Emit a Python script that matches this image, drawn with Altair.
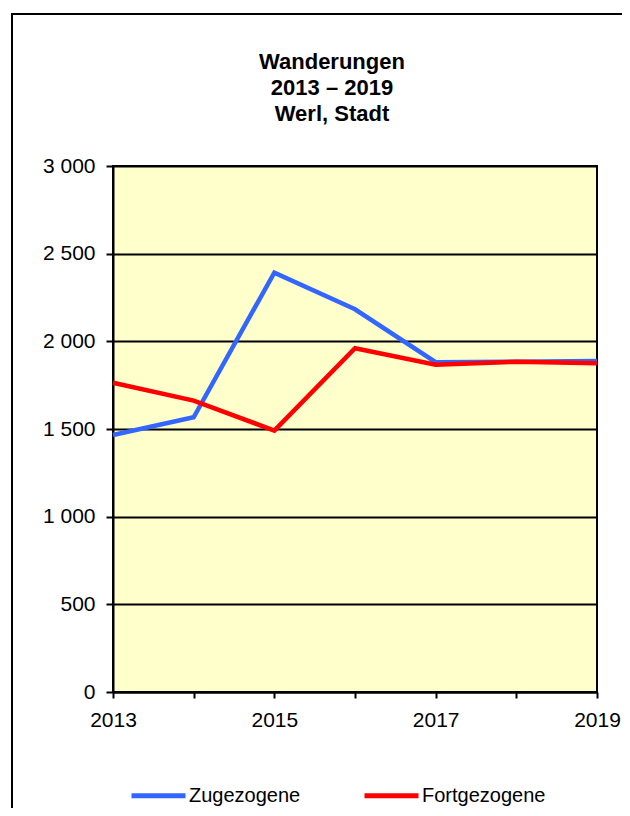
import altair as alt
import pandas as pd

years = [2013, 2014, 2015, 2016, 2017, 2018, 2019]
zugezogene = [1466, 1567, 2392, 2183, 1881, 1884, 1888]
fortgezogene = [1764, 1662, 1491, 1961, 1867, 1884, 1875]
series_names = ["Zugezogene", "Fortgezogene"]
colors = ["#3366ff", "#ff0000"]
y_ticks = [0, 500, 1000, 1500, 2000, 2500, 3000]
title_lines = ["Wanderungen", "2013 – 2019", "Werl, Stadt"]

rows = []
for name, vals in zip(series_names, [zugezogene, fortgezogene]):
    for yr, v in zip(years, vals):
        rows.append({"Jahr": yr, "Wert": v, "Reihe": name})
df = pd.DataFrame(rows)

W, H = 484, 526
FONT = "Liberation Sans"

lines = alt.Chart(df).mark_line(strokeWidth=4.5, clip=False).encode(
    x=alt.X(
        "Jahr:Q",
        scale=alt.Scale(domain=[years[0], years[-1]], nice=False, zero=False),
        axis=alt.Axis(
            values=years, format="d", title=None,
            labelExpr="datum.value % 2 == 1 ? datum.label : ''",
            labelFlush=False, labelOverlap=False,
            labelFont=FONT, labelFontSize=21, labelColor="black",
            labelPadding=11, tickSize=6, tickWidth=2, tickColor="black",
            domainColor="black", domainWidth=2, grid=False,
        ),
    ),
    y=alt.Y(
        "Wert:Q",
        scale=alt.Scale(domain=[0, 3000], nice=False),
        axis=alt.Axis(
            values=y_ticks, title=None,
            labelExpr="replace(format(datum.value, ','), ',', ' ')",
            labelFlush=False, labelOverlap=False,
            labelFont=FONT, labelFontSize=21, labelColor="black",
            labelPadding=11, tickSize=7, tickWidth=2, tickColor="black",
            domainColor="black", domainWidth=2,
            grid=True, gridColor="black", gridWidth=2, gridOpacity=1,
        ),
    ),
    color=alt.Color(
        "Reihe:N",
        sort=series_names,
        scale=alt.Scale(domain=series_names, range=colors),
        legend=alt.Legend(
            title=None, orient="none", legendX=16, legendY=600,
            direction="horizontal", symbolType="stroke",
            symbolSize=2916, symbolStrokeWidth=5,
            labelFont=FONT, labelFontSize=20, labelColor="black",
            labelOffset=1, columnPadding=53,
        ),
    ),
)

title = alt.Chart(alt.Data(values=[{"a": 1}])).mark_text(
    font=FONT, fontSize=22, fontWeight="bold", color="black",
    align="center", baseline="alphabetic", lineHeight=26,
).encode(
    x=alt.value(219), y=alt.value(-97), text=alt.value(title_lines)
)

frame = alt.Chart(alt.Data(values=[{"a": 1}])).mark_rect(
    fill=None, stroke="black", strokeWidth=2, clip=False
).encode(
    x=alt.value(-101), x2=alt.value(700), y=alt.value(-152), y2=alt.value(900)
)

chart = alt.layer(lines, title, frame).properties(
    width=W,
    height=H,
    autosize=alt.AutoSizeParams(type="none"),
    padding={"left": 105, "top": 158, "right": 25, "bottom": 116},
).configure_view(fill="#ffffcc", stroke="black", strokeWidth=2)

chart.save("out.html", embed_options={"renderer": "svg", "actions": False})
